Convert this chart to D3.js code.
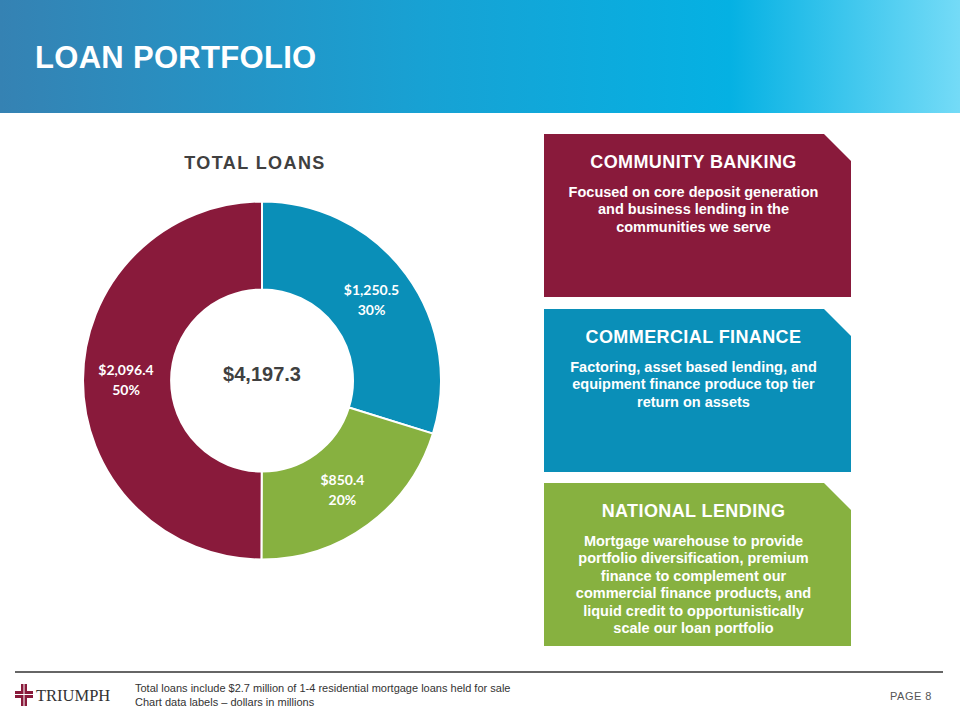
<!DOCTYPE html>
<html>
<head>
<meta charset="utf-8">
<script src="https://cdn.jsdelivr.net/npm/d3@7"></script>
<style>
  html, body { margin: 0; padding: 0; background: #fff; }
  svg { display: block; }
</style>
</head>
<body>
<script>
// ---- data ----
const segmentNames = ["Commercial Finance", "National Lending", "Community Banking"];
const segmentValues = [1250.5, 850.4, 2096.4];
const segmentPercents = ["30%", "20%", "50%"];
const segmentColors = ["#0A8FB8", "#87B140", "#891A3B"];

const boxTitles = ["COMMUNITY BANKING", "COMMERCIAL FINANCE", "NATIONAL LENDING"];
const boxBodies = [
  ["Focused on core deposit generation", "and business lending in the", "communities we serve"],
  ["Factoring, asset based lending, and", "equipment finance produce top tier", "return on assets"],
  ["Mortgage warehouse to provide", "portfolio diversification, premium", "finance to complement our",
   "commercial finance products, and", "liquid credit to opportunistically", "scale our loan portfolio"]
];
const boxColors = ["#891A3B", "#0A8FB8", "#87B140"];

const pageTitle = "LOAN PORTFOLIO";
const chartTitle = "TOTAL LOANS";
const footNotes = ["Total loans include $2.7 million  of 1-4 residential mortgage loans held for sale",
                   "Chart data labels \u2013 dollars in millions"];
const pageLabel = "PAGE  8";

// ---- drawing ----
const W = 960, H = 720;
const svg = d3.select("body").append("svg").attr("width", W).attr("height", H);
const defs = svg.append("defs");

// header gradient
const grad = defs.append("linearGradient").attr("id", "hdr").attr("x1", "0%").attr("x2", "100%");
grad.append("stop").attr("offset", "0%").attr("stop-color", "#3582B3");
grad.append("stop").attr("offset", "45%").attr("stop-color", "#17A2D4");
grad.append("stop").attr("offset", "76%").attr("stop-color", "#05B1E3");
grad.append("stop").attr("offset", "100%").attr("stop-color", "#74DBF7");
svg.append("rect").attr("x", 0).attr("y", 0).attr("width", W).attr("height", 113).attr("fill", "url(#hdr)");
svg.append("text").attr("x", 35).attr("y", 67.5)
  .attr("font-family", "Liberation Sans, Arial, sans-serif").attr("font-weight", "bold")
  .attr("font-size", 31).attr("letter-spacing", 0.3).attr("fill", "#fff").text(pageTitle);

// chart title
svg.append("text").attr("x", 255).attr("y", 168.5).attr("text-anchor", "middle")
  .attr("font-family", "Liberation Sans, Arial, sans-serif").attr("font-weight", "bold")
  .attr("font-size", 18).attr("letter-spacing", 1.4).attr("fill", "#404040").text(chartTitle);

// donut
const cx = 262, cy = 380.5, rOuter = 179, rInner = 91;
const pie = d3.pie().sort(null).value(d => d)(segmentValues);
const arc = d3.arc().innerRadius(rInner).outerRadius(rOuter);
const labelArc = d3.arc().innerRadius(136).outerRadius(136);
const g = svg.append("g").attr("transform", `translate(${cx},${cy})`);
g.selectAll("path.slice").data(pie).join("path").attr("class", "slice")
  .attr("d", arc).attr("fill", (d, i) => segmentColors[i])
  .attr("stroke", "#fff").attr("stroke-width", 2);

const fmt = d3.format(",.1f");
const lbl = g.selectAll("g.lbl").data(pie).join("g").attr("class", "lbl")
  .attr("transform", d => `translate(${labelArc.centroid(d)})`);
lbl.append("text").attr("y", -5).attr("text-anchor", "middle")
  .attr("font-family", "Lato, Open Sans, sans-serif").attr("font-weight", "bold")
  .attr("font-size", 14).attr("fill", "#fff").text(d => "$" + fmt(d.data));
lbl.append("text").attr("y", 15).attr("text-anchor", "middle")
  .attr("font-family", "Lato, Open Sans, sans-serif").attr("font-weight", "bold")
  .attr("font-size", 14).attr("fill", "#fff").text((d, i) => segmentPercents[i]);

g.append("text").attr("x", 0).attr("y", 0.5).attr("text-anchor", "middle")
  .attr("font-family", "Liberation Sans, Arial, sans-serif").attr("font-weight", "bold")
  .attr("font-size", 20).attr("fill", "#404040").text("$" + fmt(d3.sum(segmentValues)));

// boxes
const boxX = 544, boxW = 307, boxH = 163, cut = 27;
const boxTops = [134, 309, 483];
boxTitles.forEach((t, i) => {
  const y0 = boxTops[i];
  const p = d3.path();
  p.moveTo(boxX, y0);
  p.lineTo(boxX + boxW - cut, y0);
  p.lineTo(boxX + boxW, y0 + cut);
  p.lineTo(boxX + boxW, y0 + boxH);
  p.lineTo(boxX, y0 + boxH);
  p.closePath();
  svg.append("path").attr("d", p.toString()).attr("fill", boxColors[i]);
  const mx = boxX + boxW / 2 - 4;
  svg.append("text").attr("x", mx).attr("y", y0 + 34).attr("text-anchor", "middle")
    .attr("font-family", "Liberation Sans, Arial, sans-serif").attr("font-weight", "bold")
    .attr("font-size", 18).attr("letter-spacing", 0.4).attr("fill", "#fff").text(t);
  boxBodies[i].forEach((line, j) => {
    svg.append("text").attr("x", mx).attr("y", y0 + 62.5 + j * 17.5).attr("text-anchor", "middle")
      .attr("font-family", "Liberation Sans, Arial, sans-serif").attr("font-weight", "bold")
      .attr("font-size", 14.5).attr("fill", "#fff").text(line);
  });
});

// footer
svg.append("line").attr("x1", 15).attr("x2", 943).attr("y1", 672).attr("y2", 672)
  .attr("stroke", "#333").attr("stroke-width", 1.3);
footNotes.forEach((t, i) => {
  svg.append("text").attr("x", 135).attr("y", 692 + i * 14)
    .attr("font-family", "Liberation Sans Narrow, Arial Narrow, Liberation Sans, sans-serif")
    .attr("font-size", 11).attr("fill", "#333").text(t);
});
svg.append("text").attr("x", 932).attr("y", 700).attr("text-anchor", "end")
  .attr("font-family", "Liberation Sans Narrow, Arial Narrow, Liberation Sans, sans-serif")
  .attr("font-size", 11).attr("fill", "#555").attr("letter-spacing", 0.5).text(pageLabel);

// logo
const logo = svg.append("g").attr("transform", "translate(15,684)");
logo.append("rect").attr("x", 6).attr("y", 0).attr("width", 6).attr("height", 22).attr("fill", "#891A3B");
logo.append("rect").attr("x", 0).attr("y", 7).attr("width", 18).attr("height", 7).attr("fill", "#891A3B");
logo.append("rect").attr("x", 8.5).attr("y", 0).attr("width", 1).attr("height", 22).attr("fill", "#fff");
logo.append("rect").attr("x", 0).attr("y", 10).attr("width", 18).attr("height", 1).attr("fill", "#fff");
svg.append("text").attr("x", 36).attr("y", 701)
  .attr("font-family", "Liberation Serif, Times New Roman, serif")
  .attr("font-size", 16.5).attr("fill", "#333").text("TRIUMPH");
</script>
</body>
</html>
